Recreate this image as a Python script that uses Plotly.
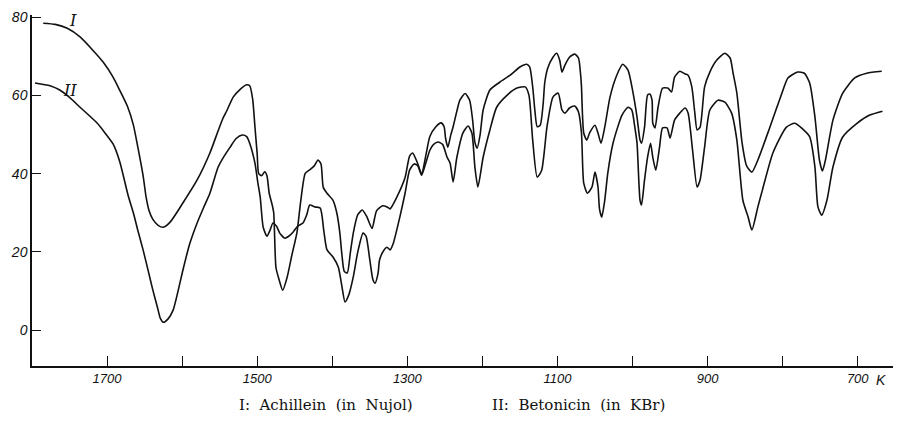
import plotly.graph_objects as go

# Curve I: Achillein (in Nujol) -- wavenumber (cm^-1) and transmission (%)
wn_I = [1785, 1769, 1753, 1736, 1719, 1705, 1692, 1683, 1673, 1665, 1659, 1652, 1648, 1644,
        1639, 1632, 1625, 1616,
        1599, 1580, 1563, 1552, 1546, 1540, 1532, 1523, 1515, 1510, 1506, 1503, 1500, 1498, 1494,
        1490, 1487, 1484, 1480, 1478, 1475, 1471, 1466, 1460, 1454, 1447, 1442, 1436, 1430, 1424,
        1419, 1415, 1412, 1407, 1399, 1394, 1390, 1387, 1384, 1380, 1376, 1372, 1366, 1360, 1354,
        1347, 1341, 1333, 1327, 1323, 1314, 1303, 1297, 1293, 1287, 1281, 1275, 1270, 1262, 1255,
        1251, 1249, 1246, 1242, 1239, 1234, 1230, 1223, 1217, 1213, 1210, 1207, 1203, 1199, 1190,
        1177, 1163, 1150, 1141, 1137, 1133, 1130, 1127, 1123, 1119, 1117, 1113, 1106, 1101, 1097,
        1094, 1090, 1084, 1077, 1072, 1069, 1068, 1065, 1061, 1057, 1050, 1046, 1042, 1037, 1030,
        1021, 1013, 1006, 1000, 994, 990, 988, 984, 980, 977, 974, 973, 970, 966, 960,
        953, 948, 944, 937, 930, 926, 921, 917, 914, 910, 904, 897, 888, 877, 870,
        866, 861, 854, 848, 841, 833, 817, 801, 793, 780, 771, 764, 757, 751, 747,
        743, 733, 720, 704, 688, 668]
tr_I = [78.5, 78.2, 77.2, 75.0, 71.6, 68.5, 64.7, 61.3, 57.3, 52.5, 46.8, 39.5, 34.0, 30.5,
        28.3, 26.8, 26.3, 27.6,
        32.5, 38.4, 45.3, 51.0, 54.0, 56.3, 59.6, 61.5, 62.7, 62.5, 59.0, 52.0, 45.0, 40.0, 39.5,
        40.5, 39.5, 35.0, 32.0, 30.0, 16.0, 13.0, 10.2, 13.6, 19.0, 25.0, 33.0, 40.1, 41.0, 42.0,
        43.5, 42.5, 36.5, 35.0, 33.2, 30.0, 25.0, 19.0, 15.0, 14.6, 19.7, 24.8, 29.5, 30.7, 29.0,
        26.0, 30.5, 31.8, 31.5, 31.0, 34.0, 39.0, 44.5, 45.3, 43.0, 40.0, 45.0, 49.5, 52.0, 53.0,
        52.0, 49.0, 46.8, 50.0, 52.0, 56.0, 58.8, 60.5, 58.8, 53.7, 48.0, 46.5, 50.0, 56.3, 61.4,
        63.4, 65.2, 67.3, 68.0, 67.3, 62.2, 56.0, 52.0, 52.4, 58.0, 63.2, 67.0, 69.8, 70.8, 69.0,
        66.0, 67.8, 69.8, 70.6, 69.6, 65.0, 62.2, 50.4, 48.6, 50.5, 52.4, 50.4, 47.8, 51.9, 59.6,
        65.2, 68.0, 66.5, 61.4, 54.5, 48.6, 47.8, 51.9, 60.1, 60.4, 58.8, 52.9, 51.7, 57.0, 61.9,
        61.9, 60.9, 64.7, 66.2, 65.5, 65.2, 62.2, 55.5, 51.2, 51.9, 62.2, 66.0, 69.0, 70.8, 69.6,
        65.7, 60.6, 47.8, 42.0, 40.4, 43.5, 51.9, 60.6, 64.5, 66.0, 65.7, 63.2, 54.5, 43.5, 40.7,
        43.5, 53.7, 60.6, 64.5, 65.7, 66.2]

# Curve II: Betonicin (in KBr)
wn_II = [1796, 1776, 1763, 1750, 1736, 1713, 1703, 1692, 1683, 1672, 1665, 1659, 1652, 1645, 1639,
         1633, 1629,
         1625, 1619, 1612, 1606, 1599, 1590, 1580, 1571, 1563, 1552, 1544, 1536, 1528, 1520, 1514,
         1510, 1503, 1499, 1496, 1492, 1487, 1483, 1479, 1474, 1470, 1463, 1458, 1452, 1446, 1439,
         1434, 1430, 1423, 1416, 1411, 1407, 1399, 1392, 1387, 1383, 1378, 1372, 1366, 1359, 1355,
         1350, 1346, 1343, 1339, 1337, 1331, 1327, 1323, 1319, 1310, 1303, 1297, 1291, 1286, 1281,
         1275, 1270, 1265, 1259, 1253, 1247, 1243, 1239, 1234, 1226, 1219, 1214, 1210, 1206, 1199,
         1190, 1181, 1167, 1154, 1143, 1138, 1133, 1127, 1121, 1114, 1106, 1099, 1094, 1090, 1084,
         1077, 1072, 1068, 1065, 1060, 1054, 1050, 1046, 1044, 1041, 1037, 1033, 1026, 1014, 1006,
         1001, 997, 994, 990, 988, 984, 980, 976, 973, 969, 964, 960, 954, 950, 944,
         937, 930, 926, 920, 914, 910, 904, 897, 886, 877, 868, 861, 853, 846, 841,
         833, 827, 813, 795, 784, 775, 764, 757, 753, 748, 741, 733, 720, 701, 684,
         667]
tr_II = [63.2, 62.5, 61.4, 59.5, 57.0, 52.9, 50.5, 47.6, 43.0, 34.5, 30.0, 25.5, 20.5, 15.0, 10.2,
         5.9, 3.0,
         2.0, 2.8, 5.1, 9.5, 15.3, 22.0, 27.4, 31.5, 35.0, 41.7, 44.5, 46.8, 49.0, 49.9, 49.5,
         47.8, 42.7, 37.5, 34.0, 26.3, 24.0, 25.5, 27.4, 26.5, 24.8, 23.5, 24.0, 25.1, 26.6, 27.4,
         29.5, 32.0, 31.5, 31.2, 25.0, 20.5, 18.7, 16.1, 11.0, 7.2, 9.0, 13.6, 20.0, 24.8, 24.0,
         18.0, 13.0, 12.0, 14.5, 17.9, 20.5, 21.2, 20.5, 22.0, 28.9, 35.0, 40.9, 42.5, 42.0, 39.6,
         43.0, 46.0, 47.5, 48.1, 47.5, 44.2, 42.7, 37.9, 44.2, 50.4, 52.2, 50.4, 41.7, 36.6, 44.2,
         51.2, 57.0, 60.1, 61.9, 62.2, 60.1, 48.6, 39.1, 40.9, 51.9, 59.6, 60.6, 56.3, 55.5, 56.8,
         57.3, 55.8, 50.4, 37.6, 35.0, 36.6, 40.4, 36.6, 31.0, 28.9, 33.2, 40.1, 47.8, 55.0, 57.0,
         56.3, 52.0, 47.8, 33.2, 32.0, 38.4, 44.2, 47.8, 44.2, 40.9, 46.8, 51.7, 51.7, 49.1, 53.7,
         55.5, 56.8, 55.5, 46.0, 36.6, 38.4, 46.8, 56.3, 58.8, 58.3, 55.5, 48.6, 33.2, 28.9, 25.6,
         31.5, 35.8, 45.3, 51.9, 52.9, 51.7, 49.4, 41.7, 31.5, 29.4, 33.2, 41.7, 49.4, 52.9, 55.0,
         56.0]

y_ticks = [0, 20, 40, 60, 80]
y_ticktext = ["<i>0</i>", "<i>20</i>", "<i>40</i>", "<i>60</i>", "<i>80</i>"]
x_ticks = [1700, 1600, 1500, 1400, 1300, 1200, 1100, 1000, 900, 800, 700]
x_ticktext = ["<i>1700</i>", "", "<i>1500</i>", "", "<i>1300</i>", "", "<i>1100</i>", "",
              "<i>900</i>", "", "<i>700</i>"]

caption_I = "I:\u00a0 Achillein\u00a0 (in\u00a0 Nujol)"
caption_II = "II:\u00a0 Betonicin\u00a0 (in\u00a0 KBr)"

tick_font = dict(family="Liberation Sans Narrow, Liberation Sans, Arial, sans-serif",
                 size=13, color="#111")
ytick_font = dict(family="Liberation Sans Narrow, Liberation Sans, Arial, sans-serif",
                  size=14, color="#111")
serif = "DejaVu Serif, Liberation Serif, serif"

# page body has an 8px default margin: figure is placed at (8, 8)
OFF = 8
W, H = 909 - 2 * OFF, 421 - 2 * OFF
PL, PR, PT, PB = 32, 893, 15, 366  # plot-area edges in window pixels
pw, ph = PR - PL, PB - PT

fig = go.Figure()
for xs, ys, nm in [(wn_I, tr_I, "I"), (wn_II, tr_II, "II")]:
    fig.add_trace(go.Scatter(x=xs, y=ys, mode="lines",
                             line=dict(color="#111", width=1.6, shape="spline", smoothing=0.6),
                             name=nm, showlegend=False, hoverinfo="skip"))

fig.update_layout(
    width=W, height=H,
    margin=dict(l=PL - OFF, r=OFF + W - PR, t=PT - OFF, b=OFF + H - PB, autoexpand=False),
    paper_bgcolor="white", plot_bgcolor="white",
    xaxis=dict(range=[1800, 653], showgrid=False, zeroline=False, showline=True, linecolor="#111", linewidth=1.5,
               ticks="inside", ticklen=10, tickwidth=1.2, tickcolor="#111",
               tickvals=x_ticks, ticktext=x_ticktext, tickfont=tick_font),
    yaxis=dict(range=[-9.2, 80.6], showgrid=False, zeroline=False, showline=True, linecolor="#111", linewidth=1.5,
               ticks="inside", ticklen=9, tickwidth=1.2, tickcolor="#111",
               tickvals=y_ticks, ticktext=y_ticktext, tickfont=ytick_font),
)


def px(X):
    return (X - PL) / pw


def py(Y):
    return (PB - Y) / ph


fig.add_annotation(x=1746, y=79.3, text="<i>I</i>", showarrow=False,
                   font=dict(family=serif, size=16, color="#111"))
fig.add_annotation(x=1749, y=61.4, text="<i>II</i>", showarrow=False,
                   font=dict(family=serif, size=16, color="#111"))
fig.add_annotation(xref="paper", yref="paper", x=px(888), y=py(380), text="<i>K</i>",
                   showarrow=False, yanchor="middle", font=ytick_font)
fig.add_annotation(xref="paper", yref="paper", x=px(326), y=py(405), text=caption_I,
                   showarrow=False, yanchor="middle", font=dict(family=serif, size=15, color="#111"))
fig.add_annotation(xref="paper", yref="paper", x=px(578), y=py(405), text=caption_II,
                   showarrow=False, yanchor="middle", font=dict(family=serif, size=15, color="#111"))

fig.write_html("out.html")
